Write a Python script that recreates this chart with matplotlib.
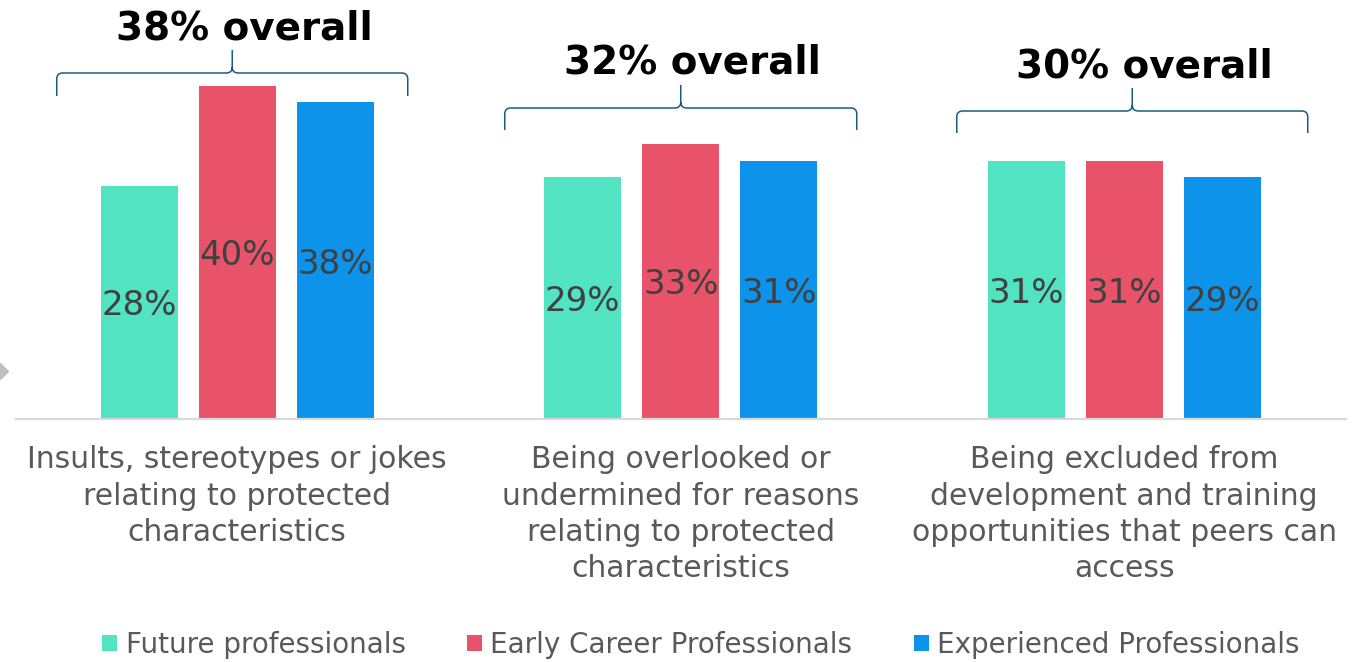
import numpy as np
from matplotlib import pyplot as plt
from matplotlib.path import Path
from matplotlib.patches import PathPatch
from matplotlib.lines import Line2D

categories = [
    "Insults, stereotypes or jokes\nrelating to protected\ncharacteristics",
    "Being overlooked or\nundermined for reasons\nrelating to protected\ncharacteristics",
    "Being excluded from\ndevelopment and training\nopportunities that peers can\naccess",
]
series_names = ["Future professionals", "Early Career Professionals", "Experienced Professionals"]
future = [28, 29, 31]
early = [40, 33, 31]
experienced = [38, 31, 29]
overall = [38, 32, 30]

colors = ["#52e3c2", "#e8536a", "#0e93ea"]
bracket_color = "#1d5b7d"

plt.rcParams['font.family'] = ['DejaVu Sans']

fig = plt.figure(figsize=[13.53, 6.62], dpi=100)
ax = fig.add_axes([15.5 / 1353, 243 / 662, 1330.5 / 1353, 416.5 / 662])

x = np.arange(len(categories))
width = 0.1736
step = 0.221
for i, (vals, col, name) in enumerate(zip([future, early, experienced], colors, series_names)):
    xs = x + (i - 1) * step
    ax.bar(xs, vals, width=width, color=col, label=name, zorder=2)
    for xi, v in zip(xs, vals):
        ax.text(xi, v / 2 - 0.4, f"{v}%", ha="center", va="center", fontsize=24.5,
                color="#404040", zorder=3)

ax.set_xlim(-0.5, 2.5)
ax.set_ylim(0, 50)
ax.set_yticks([])
for side in ["top", "left", "right"]:
    ax.spines[side].set_visible(False)
ax.spines["bottom"].set_color("#d9d9d9")
ax.spines["bottom"].set_linewidth(1.6)
ax.set_xticks(x)
ax.set_xticklabels(categories, fontsize=21.5, color="#595959", linespacing=1.32)
ax.tick_params(axis="x", length=0, pad=19)

# curly brackets over each group, with the overall figure above them
px_x = 1 / 443.5
px_y = 1 / 8.33
brackets = [
    # left px, right px, bottom, horizontal, peak, title baseline (px from top)
    (57, 408, 96, 73, 50, 40),
    (505, 857, 130, 108, 85, 73),
    (957, 1308, 133, 111, 88, 77),
]


def to_x(p):
    return (p - 237.5) * px_x


def to_y(p):
    return (419 - p) * px_y


for (l, r, yb, yh, yp, yt), val in zip(brackets, overall):
    x0, x1 = to_x(l), to_x(r)
    xm = (x0 + x1) / 2
    y_b, y_h, y_p = to_y(yb), to_y(yh), to_y(yp)
    rx, ry = 6 * px_x, 6 * px_y
    verts = [
        (x0, y_b), (x0, y_h - ry), (x0, y_h), (x0 + rx, y_h),
        (xm - rx, y_h), (xm, y_h), (xm, y_h + ry), (xm, y_p),
        (xm, y_h + ry), (xm, y_h), (xm + rx, y_h),
        (x1 - rx, y_h), (x1, y_h), (x1, y_h - ry), (x1, y_b),
    ]
    codes = [
        Path.MOVETO, Path.LINETO, Path.CURVE3, Path.CURVE3,
        Path.LINETO, Path.CURVE3, Path.CURVE3, Path.LINETO,
        Path.MOVETO, Path.CURVE3, Path.CURVE3,
        Path.LINETO, Path.CURVE3, Path.CURVE3, Path.LINETO,
    ]
    ax.add_patch(PathPatch(Path(verts, codes), fill=False, edgecolor=bracket_color,
                           linewidth=1.1, clip_on=False, zorder=4))
    ax.text(xm + 12 * px_x, to_y(yt), f"{val}% overall", ha="center", va="baseline",
            fontsize=28, fontweight="bold", color="black", clip_on=False)

fig.legend(loc="center", bbox_to_anchor=(0.518, 0.026), ncol=3, frameon=False,
           fontsize=20, labelcolor="#595959", handlelength=0.55, handleheight=0.55,
           handletextpad=0.3, columnspacing=2.2)

# small grey marker on the left edge
fig.add_artist(Line2D([0], [1 - 371 / 662], marker="D", markersize=8, color="#c0c0c0",
                      linestyle="none", transform=fig.transFigure, clip_on=False))

fig.savefig("out.png", dpi=100)
